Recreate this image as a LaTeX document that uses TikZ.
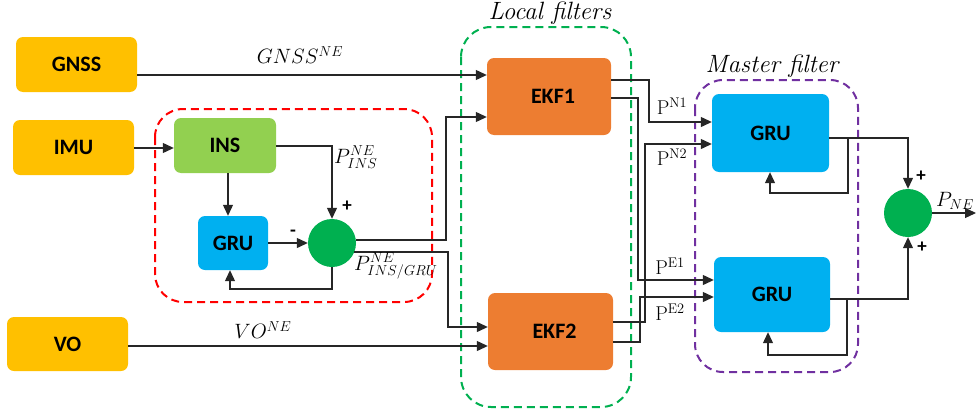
\documentclass[tikz,border=0pt]{standalone}
\usepackage{fontspec}
\setsansfont{Carlito}
\usetikzlibrary{arrows.meta,calc}
\definecolor{cyel}{HTML}{FFC000}
\definecolor{cins}{HTML}{92D050}
\definecolor{cblue}{HTML}{00B0F0}
\definecolor{csum}{HTML}{00B050}
\definecolor{cekf}{HTML}{ED7D31}
\definecolor{cpur}{HTML}{7030A0}
\tikzset{
  blk/.style={rounded corners=7pt, inner sep=0pt, draw=none, font=\sffamily\bfseries\fontsize{22}{26}\selectfont},
  sumc/.style={circle, fill=csum, inner sep=0pt, minimum size=48pt},
  arr/.style={draw=black!85, line width=1.2pt, -{Triangle[length=11pt,width=10pt]}},
  grp/.style={line width=2pt, dash pattern=on 8pt off 5pt, rounded corners=28pt},
  lbl/.style={font=\fontsize{20}{24}\selectfont, inner sep=0pt},
  glbl/.style={font=\itshape\fontsize{25}{30}\selectfont, inner sep=0pt},
  sgn/.style={font=\sffamily\bfseries\fontsize{19}{21}\selectfont, inner sep=0pt}
}
\begin{document}
\begin{tikzpicture}[x=1pt,y=-1pt]
\useasboundingbox (0,0) rectangle (976,415);
% groups
\draw[grp, draw=red] (155,109) rectangle (432,302);
\draw[grp, draw=csum, rounded corners=30pt] (461,27) rectangle (631,407);
\draw[grp, draw=cpur] (695,80) rectangle (858,372);
\node[glbl] (tlocal) at (550,13) {Local filters};
\node[glbl] (tmaster) at (772,66) {Master filter};
% blocks
\node[blk, fill=cyel, minimum width=121pt, minimum height=55pt] (GNSS) at (76.5,64.5) {GNSS};
\node[blk, fill=cyel, minimum width=121pt, minimum height=55pt] (IMU) at (73.5,147.5) {IMU};
\node[blk, fill=cyel, minimum width=121pt, minimum height=54pt] (VO) at (67.5,344) {VO};
\node[blk, fill=cins, minimum width=102pt, minimum height=55pt] (INS) at (225,145.5) {INS};
\node[blk, fill=cblue, minimum width=70pt, minimum height=54pt] (GRUs) at (233,243) {GRU};
\node[sumc] (sum1) at (332,243) {};
\node[blk, fill=cekf, minimum width=124pt, minimum height=77pt] (EKF1) at (549,96.5) {\hspace{8pt}EKF1};
\node[blk, fill=cekf, minimum width=125pt, minimum height=77pt] (EKF2) at (550.5,331.5) {\hspace{8pt}EKF2};
\node[blk, fill=cblue, minimum width=117pt, minimum height=78pt] (GRU1) at (770.5,133) {GRU};
\node[blk, fill=cblue, minimum width=116pt, minimum height=75pt] (GRU2) at (772,294.5) {GRU};
\node[sumc] (sum2) at (908,213) {};
\coordinate (out) at (976,213);
\coordinate (fb1) at (848,138);
\coordinate (fb2) at (847,299);
% connectors
\draw[arr] (GNSS.east |- 0,75) -- (EKF1.west |- 0,75);
\draw[arr] (IMU.east |- 0,148) -- (INS.west |- 0,148);
\draw[arr] (INS.east |- 0,146) -| (sum1.north);
\draw[arr] (INS.south -| 228,0) -- (GRUs.north -| 228,0);
\draw[arr] (GRUs.east) -- (sum1.west);
\draw[arr] (sum1.south) -- (sum1.south |- 0,289) -| (GRUs.south -| 230,0);
\draw[arr] (sum1.7) -| (446,117) -- (EKF1.west |- 0,117);
\draw[arr] (sum1.-22) -| (448,327) -- (EKF2.west |- 0,327);
\draw[arr] (VO.east |- 0,346) -- (EKF2.west |- 0,346);
\draw[arr] (EKF1.east |- 0,80) -| (649,122) -- (GRU1.west |- 0,122);
\draw[arr] (EKF1.east |- 0,98) -| (638,280) -- (GRU2.west |- 0,280);
\draw[arr] (EKF2.east |- 0,322) -| (645,144) -- (GRU1.west |- 0,144);
\draw[arr] (EKF2.east |- 0,342) -| (640,297) -- (GRU2.west |- 0,297);
\draw[arr] (GRU1.east |- fb1) -| (sum2.north);
\draw[arr] (fb1) |- (770,193) -- (GRU1.south -| 770,0);
\draw[arr] (GRU2.east |- fb2) -| (sum2.south);
\draw[arr] (fb2) |- (768,355) -- (GRU2.south -| 768,0);
\draw[arr] (sum2.east) -- (out);
% labels
\node[lbl] (lgnss) at (300,55) {$GNSS^{NE}$};
\node[lbl, anchor=west] (lpins) at (334,157) {$P^{NE}_{INS}$};
\node[lbl, anchor=west] (lpig) at (354,266) {$P^{NE}_{INS/GRU}$};
\node[lbl] (lvo) at (263,330) {$VO^{NE}$};
\node[sgn] (p1) at (347,206) {+};
\node[sgn] (m1) at (293,233) {-};
\node[lbl] (lpn1) at (672,106) {$\mathrm{P}^{\mathrm{N}1}$};
\node[lbl] (lpn2) at (672,157) {$\mathrm{P}^{\mathrm{N}2}$};
\node[lbl] (lpe1) at (670,266) {$\mathrm{P}^{\mathrm{E}1}$};
\node[lbl] (lpe2) at (670,312) {$\mathrm{P}^{\mathrm{E}2}$};
\node[sgn] (p2) at (921,176) {+};
\node[sgn] (p3) at (922,247) {+};
\node[lbl] (lpne) at (955,201) {$P_{NE}$};
\end{tikzpicture}
\end{document}
